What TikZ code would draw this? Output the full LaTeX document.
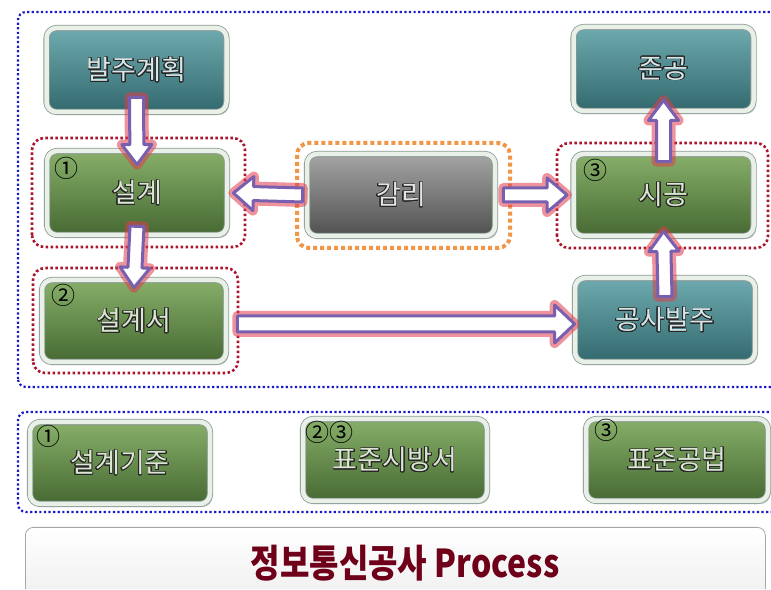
\documentclass[tikz,border=0pt]{standalone}
\usepackage{fontspec}
\setmainfont{Noto Sans CJK KR}
\usepackage{contour}
\contourlength{0.7pt}
\contournumber{24}
\usetikzlibrary{calc,shadows}
\definecolor{tealA}{RGB}{110,170,175}
\definecolor{tealM}{RGB}{80,140,145}
\definecolor{tealB}{RGB}{50,105,110}
\definecolor{greenA}{RGB}{135,175,105}
\definecolor{greenM}{RGB}{105,145,80}
\definecolor{greenB}{RGB}{70,105,50}
\definecolor{grayA}{RGB}{165,165,165}
\definecolor{grayM}{RGB}{125,125,125}
\definecolor{grayB}{RGB}{80,80,80}
\definecolor{frameC}{RGB}{140,155,150}
\definecolor{frameIn}{RGB}{232,240,232}
\definecolor{dotblue}{RGB}{25,25,200}
\definecolor{dotred}{RGB}{170,20,45}
\definecolor{dotorange}{RGB}{240,150,70}
\definecolor{glowred}{RGB}{225,60,75}
\definecolor{arrpurple}{RGB}{120,95,175}
\definecolor{titlered}{RGB}{110,0,25}
\newcommand\boxtxt[2]{{\color{#1}\contour{black!85}{#2}}}
\newcommand\blk[4]{%
  \coordinate (bkH) at ($#2!20pt!#1$);
  \draw[blkarrow] ($#1!#3!90:#2$) -- ($(bkH)!#3!90:#2$) -- ($(bkH)!#4!90:#2$) -- #2
    -- ($(bkH)!#4!-90:#2$) -- ($(bkH)!#3!-90:#2$) -- ($#1!#3!-90:#2$) -- cycle;}
\tikzset{
  pbox/.style={rounded corners=10pt, minimum width=180pt, minimum height=84pt,
    draw=frameC, line width=0.8pt, double=frameIn, double distance=4.5pt,
    drop shadow={shadow xshift=2.5pt, shadow yshift=-3pt, opacity=0.3, fill=black!70},
    inner sep=0pt, font=\fontsize{27}{27}\selectfont},
  tealbox/.style={pbox, top color=tealA, middle color=tealM, bottom color=tealB},
  greenbox/.style={pbox, top color=greenA, middle color=greenM, bottom color=greenB},
  graybox/.style={pbox, top color=grayA, middle color=grayM, bottom color=grayB},
  bluedot/.style={draw=dotblue, line width=2.2pt, dash pattern=on 2.2pt off 2.4pt, rounded corners=8pt},
  reddot/.style={draw=dotred, line width=2.6pt, dash pattern=on 2.6pt off 2.4pt, rounded corners=12pt},
  orangedot/.style={draw=dotorange, line width=4pt, dash pattern=on 4pt off 3pt, rounded corners=12pt},
  blkarrow/.style={fill=white, draw=arrpurple, line width=3pt, line join=round,
    preaction={draw=glowred, line width=10pt, opacity=0.55, line join=round}},
  numtxt/.style={font=\fontsize{24}{24}\selectfont, inner sep=0pt, text=black},
}
\begin{document}
\begin{tikzpicture}[x=1pt,y=1pt]
\useasboundingbox (0,0) rectangle (771,589);
\clip (0,0) rectangle (771,589);
\fill[white] (0,0) rectangle (771,589);
% region frames
\draw[bluedot] (18,202) rectangle (790,577);
\draw[bluedot] (18,77) rectangle (790,177);
\draw[reddot] (32,342) rectangle (245,451);
\draw[reddot] (33,216) rectangle (238,321);
\draw[reddot] (557,341) rectangle (768,446);
\draw[orangedot] (297,341) rectangle (510,446);
% boxes
\node[tealbox] (bj) at (136.5,519) {\boxtxt{white!72!tealA}{발주계획}};
\node[greenbox] (sg) at (137,396) {\boxtxt{white!70!greenA}{설계}};
\node[graybox, minimum width=188pt, minimum height=82pt] (gm) at (401,394) {\boxtxt{white!70!grayA}{감리}};
\node[greenbox, minimum height=82pt] (sj) at (663.5,394) {\boxtxt{white!70!greenA}{시공}};
\node[tealbox] (jg) at (663.5,520) {\boxtxt{white!72!tealA}{준공}};
\node[greenbox, minimum width=184pt, minimum height=82pt] (sgs) at (134,268) {\boxtxt{white!70!greenA}{설계서}};
\node[tealbox] (gb) at (665,269) {\boxtxt{white!72!tealA}{공사발주}};
\node[greenbox, minimum width=180pt, minimum height=82pt] (b1) at (120,126) {\boxtxt{white!70!greenA}{설계기준}};
\node[greenbox, minimum width=184pt, minimum height=82pt] (b2) at (395,129) {\boxtxt{white!70!greenA}{표준시방서}};
\node[greenbox, minimum width=182pt, minimum height=82pt] (b3) at (677,129) {\boxtxt{white!70!greenA}{표준공법}};
% numbers
\node[numtxt] (n1) at (66,421) {①};
\node[numtxt] (n3) at (595,419) {③};
\node[numtxt] (n2) at (63,294) {②};
\node[numtxt] (m1) at (48,153) {①};
\node[numtxt] (m23) at (329,157) {②③};
\node[numtxt] (m3) at (606,159) {③};
% title
\node[draw=gray!70, line width=0.8pt, rounded corners=8pt, top color=white, bottom color=gray!12,
  minimum width=740pt, minimum height=70pt, anchor=north west, inner sep=0pt] (tb) at (25,62) {};
\node[font=\fontsize{32}{32}\bfseries\selectfont, text=titlered, inner sep=0pt] (tt) at (405,26) {\scalebox{1.0}[1.2]{정보통신공사 Process}};
% arrows
\blk{([yshift=15pt]bj.south)}{([yshift=-14pt]sg.north)}{7pt}{15pt}
\blk{([yshift=9pt]sg.south)}{([yshift=-8pt]sgs.north)}{7pt}{15pt}
\blk{([xshift=-4pt]gm.west)}{([xshift=6pt]sg.east)}{7pt}{17pt}
\blk{([xshift=8pt]gm.east)}{([xshift=-6pt]sj.west)}{7pt}{17pt}
\blk{([xshift=11pt,yshift=-3pt]sgs.east)}{([yshift=-4pt]gb.west)}{8pt}{19pt}
\blk{([yshift=-19pt]gb.north)}{([yshift=5pt]sj.south)}{7pt}{15pt}
\blk{([yshift=-8pt]sj.north)}{([yshift=11pt]jg.south)}{7pt}{15pt}
\end{tikzpicture}
\end{document}
